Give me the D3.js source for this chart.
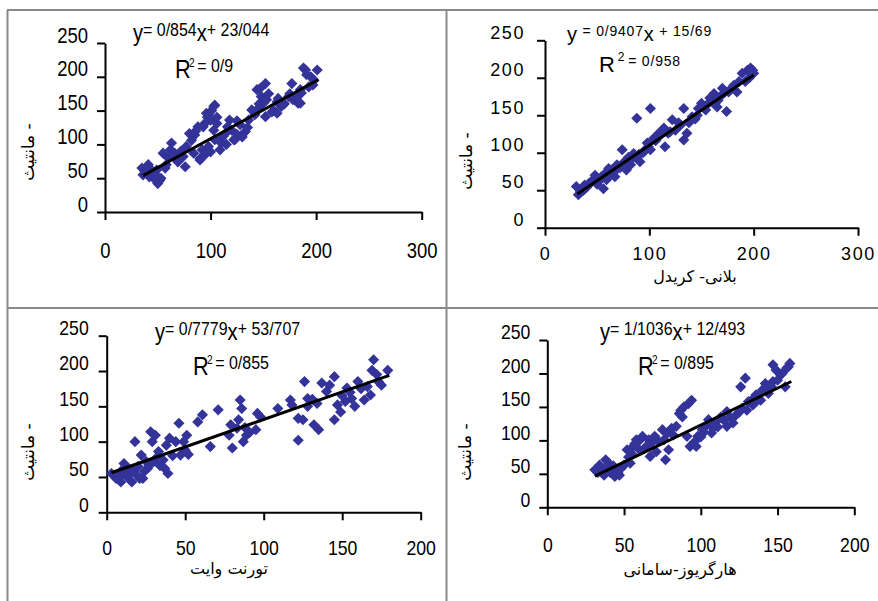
<!DOCTYPE html>
<html>
<head>
<meta charset="utf-8">
<script src="https://cdn.jsdelivr.net/npm/d3@7/dist/d3.min.js"></script>
<style>
body { margin: 0; background: #fff; }
</style>
</head>
<body>
<div id="chart"></div>
<script>
var width = 878;
var height = 601;

var yTicks = [0, 50, 100, 150, 200, 250];
var xTicksWide = [0, 100, 200, 300];
var xTicksNarrow = [0, 50, 100, 150, 200];

var yLabel = "مانتیث -";
var xLabels = ["", "بلانی- کریدل", "تورنت وایت", "هارگریوز-سامانی"];

var slopes = [0.854, 0.9407, 0.7779, 1.1036];
var intercepts = [23.044, 15.69, 53.707, 12.493];
var slopeText = ["0/854", "0/9407", "0/7779", "1/1036"];
var interceptText = ["23/044", "15/69", "53/707", "12/493"];
var r2Text = ["0/9", "0/958", "0/855", "0/895"];
var lineFrom = [36, 31, 3, 31];
var lineTo = [202, 200, 180, 159];

// top left
var pointsA = [[36,55],[35,65],[41,70],[46,50],[50,42],[49,62],[57,65],[55,87],[63,102],[62,92],
    [69,74],[66,87],[77,97],[74,82],[80,116],[85,114],[88,126],[92,92],[90,79],[96,146],
    [104,158],[100,136],[103,121],[104,107],[98,97],[110,102],[114,116],[118,136],[120,121],[128,129],
    [130,111],[123,107],[133,119],[142,144],[145,153],[144,181],[152,190],[148,171],[152,141],[150,161],
    [158,148],[163,163],[167,156],[174,171],[177,190],[180,166],[185,181],[190,210],[191,203],[201,210],
    [197,188],[193,185],[183,161],[186,176],[136,136],[139,151],[147,183],[153,166],[164,168],[163,146],
    [178,166],[188,213],[185,161],[103,156],[98,144],[93,126],[90,77],[106,131],[109,107],[131,116],
    [122,107],[100,89],[109,92],[84,87],[76,67],[65,82],[52,47],[40,67],[46,57],
    [38,60],[42,52],[44,62],[48,55],[53,50],[58,70],[60,80],[70,80],[72,90],[82,106],
    [86,120],[94,130],[97,140],[101,150],[106,140],[112,112],[116,126],[125,115],[135,125],[146,160],
    [155,175],[160,150],[170,160],[175,175],[182,170],[195,200],[198,195],[125,135],[115,100],[95,85]];

// top right, blaney-criddle
var pointsB = [[30,55],[32,44],[37,50],[42,59],[46,64],[48,70],[51,61],[58,73],[59,64],[64,77],
    [69,84],[67,68],[74,104],[78,77],[82,90],[85,99],[88,146],[91,88],[96,104],[101,159],
    [98,113],[104,119],[109,126],[114,133],[115,108],[122,144],[118,126],[125,130],[133,159],[130,137],
    [133,117],[136,126],[141,148],[146,150],[150,166],[154,157],[158,173],[162,179],[165,161],[170,186],
    [174,155],[176,181],[181,190],[184,181],[189,206],[194,210],[197,213],[200,206],[192,195],[38,57],
    [54,68],[61,79],[82,84],[88,93],[101,104],[106,116],[147,159],[166,170],[56,52],
    [34,48],[40,54],[44,60],[50,58],[62,70],[66,74],[72,80],[76,88],[80,94],[90,98],
    [94,100],[99,108],[107,120],[111,124],[120,128],[128,140],[138,140],[144,145],[152,160],[156,165],
    [160,168],[168,175],[172,180],[178,185],[186,195],[196,200],[199,210]];

// bottom left, thornthwaite
var pointsC = [[3,55],[6,48],[9,43],[11,69],[14,62],[16,43],[18,100],[19,53],[22,81],[23,48],
    [28,114],[29,100],[31,109],[30,72],[33,86],[36,74],[39,55],[40,105],[46,126],[47,81],
    [50,88],[51,109],[58,128],[61,138],[66,93],[71,145],[78,109],[80,91],[83,119],[85,159],
    [86,147],[84,131],[87,100],[89,109],[95,117],[96,140],[98,135],[109,147],[117,159],[118,152],
    [122,133],[122,102],[125,131],[126,185],[128,161],[132,124],[134,154],[135,117],[137,183],[140,171],
    [142,180],[145,192],[147,152],[145,131],[149,142],[152,157],[153,176],[156,161],[160,185],[164,159],
    [166,178],[168,166],[169,201],[170,216],[173,185],[179,201],[9,58],[13,50],[26,62],[38,95],
    [49,100],[79,124],
    [5,52],[8,50],[12,56],[15,55],[17,60],[20,65],[21,48],[24,58],[25,72],[27,66],
    [32,78],[34,66],[37,62],[42,80],[44,100],[52,82],[88,120],[91,113],[128,150],[131,160],
    [150,165],[155,170],[158,150],[162,175],[172,195],[175,180]];

// bottom right, hargreaves-samani
var pointsD = [[31,56],[34,63],[38,71],[37,48],[42,58],[44,46],[47,48],[50,63],[54,66],[52,86],
    [56,91],[58,101],[62,106],[66,101],[67,76],[71,83],[70,106],[75,116],[77,71],[79,86],
    [81,118],[84,121],[87,145],[89,150],[94,160],[91,106],[93,91],[98,106],[97,91],[103,121],
    [105,131],[107,111],[110,128],[113,135],[117,121],[117,143],[121,126],[123,138],[127,148],[129,193],
    [126,180],[131,158],[134,153],[136,168],[140,175],[142,185],[144,170],[147,188],[147,213],[152,198],
    [155,180],[156,208],[158,215],[149,205],[40,66],[45,56],[60,86],[76,101],[101,116],[119,135],
    [139,160],
    [33,52],[35,58],[39,60],[41,52],[43,62],[46,52],[48,58],[53,75],[55,80],[57,95],
    [60,100],[64,90],[68,96],[72,100],[78,110],[82,108],[86,140],[88,135],[92,155],[96,98],
    [100,105],[102,112],[106,125],[108,118],[111,120],[115,130],[120,132],[125,142],[130,145],[133,160],
    [137,160],[143,178],[146,180],[150,190],[153,200],[157,210]];

var arial = "'Liberation Sans', Arial, sans-serif";
var persian = "'DejaVu Sans', sans-serif";

// squeeze < 1 imitates the narrow face of three of the panels
var panels = [
    { pts: pointsA, left: 105, right: 421.7, top: 43, bottom: 212, xMax: 300, xTicks: xTicksWide,
      squeeze: 0.84, tickFs: 22, padY: 9, padX: 22, eq: [133, 41], r2: [175, 78], big: 24, small: 19,
      eqSep: "", supDx: -2, yLab: [28, 152], xLab: null, spacing: 0 },
    { pts: pointsB, left: 545, right: 858, top: 40.3, bottom: 227.7, xMax: 300, xTicks: xTicksWide,
      squeeze: 1, tickFs: 18, padY: 12, padX: 12, eq: [567, 41], r2: [599, 72], big: 20, small: 14,
      eqSep: " ", supDx: 2, yLab: [466, 161], xLab: [695, 282], spacing: 0.8 },
    { pts: pointsC, left: 106.7, right: 420.7, top: 335.7, bottom: 512.3, xMax: 200, xTicks: xTicksNarrow,
      squeeze: 0.84, tickFs: 21, padY: 10, padX: 20, eq: [155, 340], r2: [193, 375], big: 24, small: 19,
      eqSep: "", supDx: -2, yLab: [28, 452], xLab: [229, 574], spacing: 0 },
    { pts: pointsD, left: 547.3, right: 854.3, top: 340, bottom: 507.3, xMax: 200, xTicks: xTicksNarrow,
      squeeze: 0.84, tickFs: 21, padY: 9, padX: 22, eq: [600, 340], r2: [638, 375], big: 24, small: 19,
      eqSep: "", supDx: -2, yLab: [465, 452], xLab: [680, 575], spacing: 0 }
];

var svg = d3.select("#chart").append("svg")
    .attr("width", width)
    .attr("height", height);

svg.append("rect")
    .attr("width", width)
    .attr("height", height)
    .attr("fill", "#fff");

// panel frame
var frame = svg.append("g")
    .attr("stroke", "#8a8a8a")
    .attr("stroke-width", 2);
frame.append("line").attr("x1", 7).attr("y1", 10).attr("x2", width).attr("y2", 10);
frame.append("line").attr("x1", 7).attr("y1", 308).attr("x2", width).attr("y2", 308);
frame.append("line").attr("x1", 7.5).attr("y1", 10).attr("x2", 7.5).attr("y2", height);
frame.append("line").attr("x1", 446.5).attr("y1", 10).attr("x2", 446.5).attr("y2", height);

var diamond = d3.symbol(d3.symbolSquare, 62);

panels.forEach(function (p, i) {
    var x = d3.scaleLinear().domain([0, p.xMax]).range([p.left, p.right]);
    var y = d3.scaleLinear().domain([0, 250]).range([p.bottom, p.top]);
    var g = svg.append("g");

    var yAxis = g.append("g")
        .attr("transform", "translate(" + p.left + ",0)")
        .call(d3.axisLeft(y).tickValues(yTicks).tickSize(8).tickSizeOuter(0).tickPadding(p.padY));
    var xAxis = g.append("g")
        .attr("transform", "translate(0," + p.bottom + ")")
        .call(d3.axisBottom(x).tickValues(p.xTicks).tickSize(8).tickSizeOuter(0).tickPadding(p.padX));

    [yAxis, xAxis].forEach(function (ax) {
        ax.select(".domain").attr("stroke", "#000").attr("stroke-width", 2);
        ax.selectAll(".tick line").attr("stroke", "#000").attr("stroke-width", 2);
        var t = ax.selectAll(".tick text")
            .attr("fill", "#000")
            .attr("font-family", arial)
            .attr("font-size", p.tickFs)
            .attr("letter-spacing", p.spacing * 2);
        if (p.squeeze < 1) {
            t.attr("lengthAdjust", "spacingAndGlyphs")
                .attr("textLength", function (d) {
                    return String(d).length * 0.556 * p.tickFs * p.squeeze;
                });
        }
    });
    yAxis.selectAll(".tick text").attr("transform", "translate(0,-8)");

    g.selectAll("path.pt")
        .data(p.pts)
        .join("path")
        .attr("class", "pt")
        .attr("d", diamond)
        .attr("transform", function (d) {
            return "translate(" + x(d[0]) + "," + y(d[1]) + ") rotate(45)";
        })
        .attr("fill", "#333399");

    g.append("line")
        .attr("x1", x(lineFrom[i]))
        .attr("y1", y(slopes[i] * lineFrom[i] + intercepts[i]))
        .attr("x2", x(lineTo[i]))
        .attr("y2", y(slopes[i] * lineTo[i] + intercepts[i]))
        .attr("stroke", "#000")
        .attr("stroke-width", 3);

    var eq = g.append("text")
        .attr("transform", "translate(" + p.eq[0] + "," + p.eq[1] + ") scale(" + p.squeeze + ",1)")
        .attr("font-family", arial)
        .attr("letter-spacing", p.spacing)
        .attr("fill", "#000");
    eq.append("tspan").attr("font-size", p.big).text("y");
    eq.append("tspan").attr("font-size", p.small).attr("dy", -5).text(p.eqSep + "= " + slopeText[i]);
    eq.append("tspan").attr("font-size", p.big).attr("dy", 5).text("x");
    eq.append("tspan").attr("font-size", p.small).attr("dy", -5).text(p.eqSep + "+ " + interceptText[i]);

    var r2 = g.append("text")
        .attr("transform", "translate(" + p.r2[0] + "," + p.r2[1] + ") scale(" + p.squeeze + ",1)")
        .attr("font-family", arial)
        .attr("letter-spacing", p.spacing)
        .attr("fill", "#000");
    r2.append("tspan").attr("font-size", p.big + 2).text("R");
    r2.append("tspan").attr("font-size", 12).attr("dy", -11).attr("dx", p.supDx).text("2");
    r2.append("tspan").attr("font-size", p.small).attr("dy", 5).attr("dx", 3).text("= " + r2Text[i]);

    g.append("text")
        .attr("transform", "translate(" + p.yLab[0] + "," + p.yLab[1] + ") rotate(-90)")
        .attr("text-anchor", "middle")
        .attr("dy", "0.35em")
        .attr("font-family", persian)
        .attr("font-size", 17)
        .attr("fill", "#000")
        .text(yLabel);

    if (p.xLab) {
        g.append("text")
            .attr("x", p.xLab[0])
            .attr("y", p.xLab[1])
            .attr("text-anchor", "middle")
            .attr("font-family", persian)
            .attr("font-size", 16)
            .attr("fill", "#000")
            .text(xLabels[i]);
    }
});
</script>
</body>
</html>
